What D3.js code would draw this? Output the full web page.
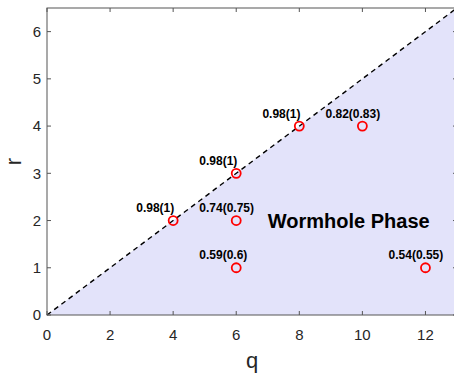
<!DOCTYPE html>
<html>
<head>
<meta charset="utf-8">
<script src="https://cdn.jsdelivr.net/npm/d3@7"></script>
<style>
  html, body { margin: 0; padding: 0; background: #fff; }
  svg { display: block; }
</style>
</head>
<body>
<svg id="chart" width="454" height="376"></svg>
<script>
// Sampled (q, r) points and their labels
const qValues = [4, 6, 8, 10, 6, 6, 12];
const rValues = [2, 3, 4, 4, 2, 1, 1];
const pointLabels = ["0.98(1)", "0.98(1)", "0.98(1)", "0.82(0.83)", "0.74(0.75)", "0.59(0.6)", "0.54(0.55)"];
const xTicks = [0, 2, 4, 6, 8, 10, 12];
const yTicks = [0, 1, 2, 3, 4, 5, 6];
const boundarySlope = 0.5; // phase boundary r = q / 2
const regionText = "Wormhole Phase";
const regionAt = [7, 2];

const svg = d3.select("#chart");
const margin = { left: 47, top: 8, right: -3, bottom: 61 };
const W = 454, H = 376;
const x = d3.scaleLinear().domain([0, 13]).range([margin.left, W - margin.right]);
const y = d3.scaleLinear().domain([0, 6.5]).range([H - margin.bottom, margin.top]);

const [x0, x1] = x.domain();
const [y0, y1] = y.domain();

// Shaded wormhole region below the boundary
const area = [[x0, y0], [x1, boundarySlope * x1], [x1, y0]];
svg.append("path")
  .attr("d", d3.line().x(d => x(d[0])).y(d => y(d[1]))(area) + "Z")
  .attr("fill", "#e3e3fa");

// Boundary line
svg.append("path")
  .attr("d", d3.line().x(d => x(d[0])).y(d => y(d[1]))([[x0, 0], [x1, boundarySlope * x1]]))
  .attr("fill", "none")
  .attr("stroke", "#000")
  .attr("stroke-width", 1.4)
  .attr("stroke-dasharray", "5,4");

// Axes box with inward ticks
const axisColor = "#555";
const tickLen = 4;
const box = svg.append("g");
box.append("rect")
  .attr("x", x(x0)).attr("y", y(y1))
  .attr("width", x(x1) - x(x0)).attr("height", y(y0) - y(y1))
  .attr("fill", "none").attr("stroke", axisColor).attr("stroke-width", 1);

xTicks.forEach(t => {
  box.append("line").attr("x1", x(t)).attr("x2", x(t))
    .attr("y1", y(y0)).attr("y2", y(y0) - tickLen).attr("stroke", axisColor);
  box.append("line").attr("x1", x(t)).attr("x2", x(t))
    .attr("y1", y(y1)).attr("y2", y(y1) + tickLen).attr("stroke", axisColor);
});
yTicks.forEach(t => {
  box.append("line").attr("y1", y(t)).attr("y2", y(t))
    .attr("x1", x(x0)).attr("x2", x(x0) + tickLen).attr("stroke", axisColor);
  box.append("line").attr("y1", y(t)).attr("y2", y(t))
    .attr("x1", x(x1)).attr("x2", x(x1) - tickLen).attr("stroke", axisColor);
});

const font = "Liberation Sans, Arial, Helvetica, sans-serif";
const textColor = "#262626";

svg.append("g").selectAll("text").data(xTicks).join("text")
  .attr("x", d => x(d)).attr("y", y(y0) + 25)
  .attr("text-anchor", "middle")
  .attr("font-family", font).attr("font-size", 15).attr("fill", textColor)
  .text(d => d);

svg.append("g").selectAll("text").data(yTicks).join("text")
  .attr("x", x(x0) - 6).attr("y", d => y(d))
  .attr("dy", "0.35em")
  .attr("text-anchor", "end")
  .attr("font-family", font).attr("font-size", 15).attr("fill", textColor)
  .text(d => d);

// Axis titles
svg.append("text")
  .attr("x", (x(x0) + x(x1)) / 2).attr("y", 368)
  .attr("text-anchor", "middle")
  .attr("font-family", font).attr("font-size", 22).attr("fill", textColor)
  .text("q");
svg.append("text")
  .attr("transform", `translate(21, ${(y(y0) + y(y1)) / 2}) rotate(-90)`)
  .attr("text-anchor", "middle")
  .attr("font-family", font).attr("font-size", 22).attr("fill", textColor)
  .text("r");

// Region label
svg.append("text")
  .attr("x", x(regionAt[0])).attr("y", y(regionAt[1]))
  .attr("dy", "0.35em")
  .attr("font-family", font).attr("font-size", 20).attr("font-weight", "bold")
  .attr("fill", "#000")
  .text(regionText);

// Data points
const pts = qValues.map((q, i) => ({ q, r: rValues[i], label: pointLabels[i] }));
svg.append("g").selectAll("circle").data(pts).join("circle")
  .attr("cx", d => x(d.q)).attr("cy", d => y(d.r)).attr("r", 4.5)
  .attr("fill", "none").attr("stroke", "#ff0000").attr("stroke-width", 1.8);

svg.append("g").selectAll("text").data(pts).join("text")
  .attr("x", d => x(d.q - 1.17)).attr("y", d => y(d.r + 0.27))
  .attr("dy", "0.35em")
  .attr("font-family", font).attr("font-size", 12).attr("font-weight", "bold")
  .attr("fill", "#000")
  .text(d => d.label);
</script>
</body>
</html>
